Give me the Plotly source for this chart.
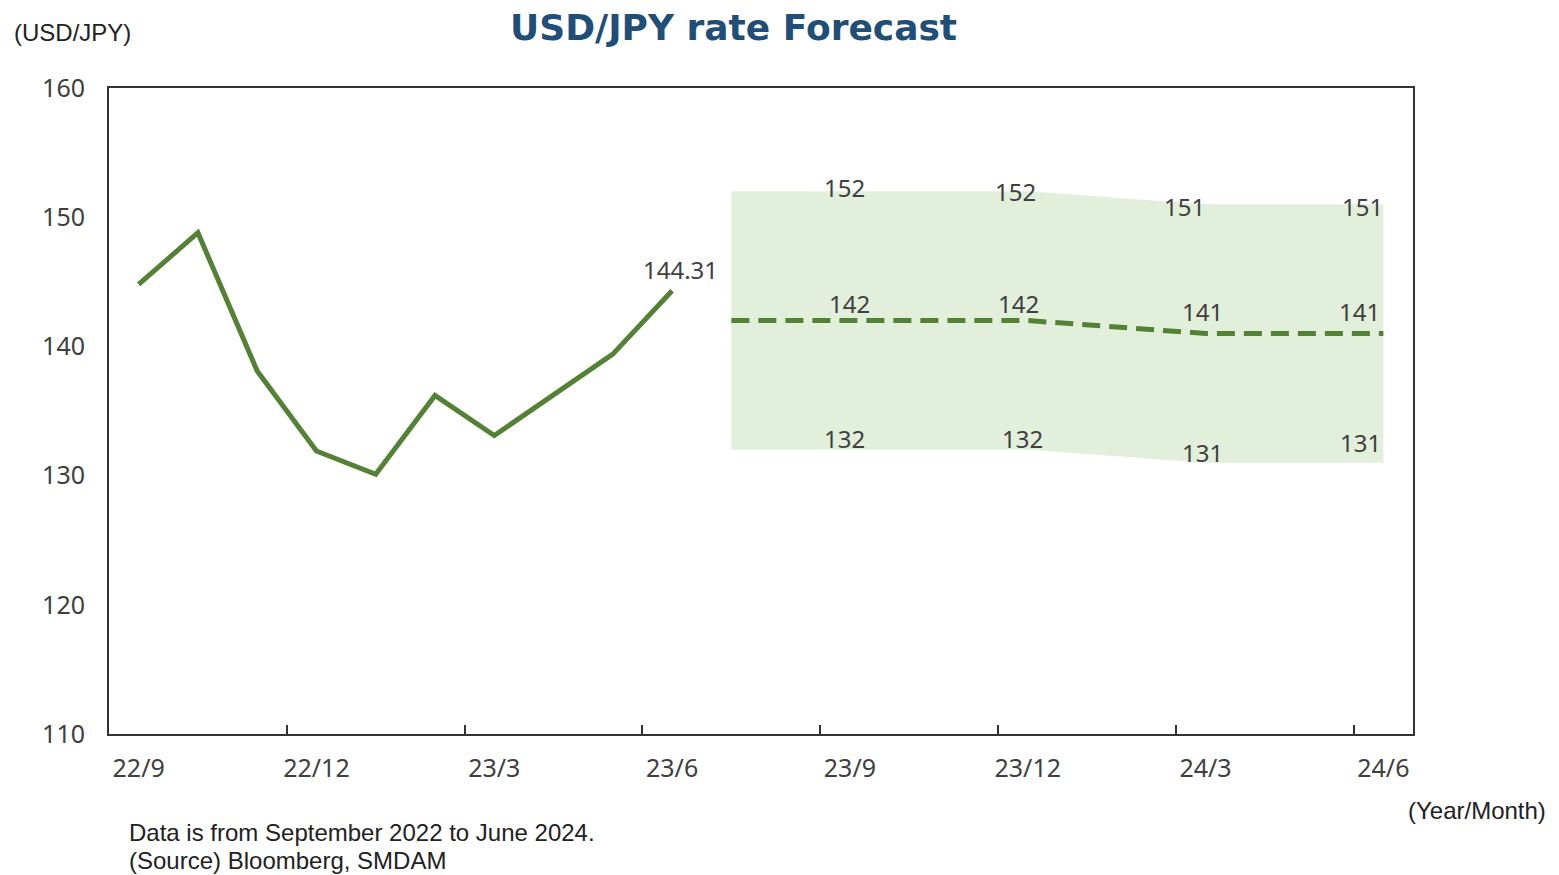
import plotly.graph_objects as go

# monthly categories 22/9 .. 24/6
months = ["22/9", "22/10", "22/11", "22/12", "23/1", "23/2", "23/3", "23/4", "23/5",
          "23/6", "23/7", "23/8", "23/9", "23/10", "23/11", "23/12", "24/1", "24/2",
          "24/3", "24/4", "24/5", "24/6"]
actual_months = months[:10]
actual_rate = [144.8, 148.8, 138.1, 131.9, 130.1, 136.2, 133.1, 136.3, 139.4, 144.31]

forecast_months = ["23/7", "23/9", "23/12", "24/3", "24/6"]
forecast_mid = [142, 142, 142, 141, 141]
forecast_high = [152, 152, 152, 151, 151]
forecast_low = [132, 132, 132, 131, 131]
label_months = ["23/9", "23/12", "24/3", "24/6"]

tick_labels = ["22/9", "22/12", "23/3", "23/6", "23/9", "23/12", "24/3", "24/6"]

GREEN = "#548235"
BAND = "#E2EFDA"
TEXT = "#404040"
FONT = "Noto Sans"
NOTE_FONT = "Liberation Sans"

# the page body has an 8px margin, so the figure is drawn 8px in from the corner
OFF = 8
PX_L, PX_R, PX_T, PX_B = 109, 1413, 88, 734  # plot area in page pixels

# label nudges (xshift, yshift) per forecast label, as placed in the original
NUDGE_HI = [(-5, 4), (-12, 0), (-21, -2), (-21, -2)]
NUDGE_MID = [(0, 17), (-9, 17), (-3, 22), (-24, 22)]
NUDGE_LO = [(-5, 11), (-5, 11), (-3, 10), (-23, 20)]


def idx(labels):
    return [months.index(m) for m in labels]


fig = go.Figure()

fig.add_trace(go.Scatter(x=idx(forecast_months), y=forecast_high, mode="lines",
                         line=dict(width=0), hoverinfo="skip", showlegend=False))
fig.add_trace(go.Scatter(x=idx(forecast_months), y=forecast_low, mode="lines",
                         line=dict(width=0), fill="tonexty", fillcolor=BAND,
                         hoverinfo="skip", showlegend=False))
fig.add_trace(go.Scatter(x=idx(actual_months), y=actual_rate, mode="lines",
                         line=dict(color=GREEN, width=5), showlegend=False))
fig.add_trace(go.Scatter(x=idx(forecast_months), y=forecast_mid, mode="lines",
                         line=dict(color=GREEN, width=5, dash="18px,9px"),
                         showlegend=False))
# invisible trace just to activate the boundary tick axis
fig.add_trace(go.Scatter(x=[0], y=[110], xaxis="x2", mode="markers",
                         marker=dict(opacity=0), hoverinfo="skip", showlegend=False))

ann = []
ann.append(dict(x=months.index(actual_months[-1]), y=actual_rate[-1],
                text=f"{actual_rate[-1]:.2f}", xshift=8, yshift=21))
lookup_hi = dict(zip(forecast_months, forecast_high))
lookup_mid = dict(zip(forecast_months, forecast_mid))
lookup_lo = dict(zip(forecast_months, forecast_low))
for k, m in enumerate(label_months):
    x = months.index(m)
    for lookup, nudge in ((lookup_hi, NUDGE_HI), (lookup_mid, NUDGE_MID), (lookup_lo, NUDGE_LO)):
        dx, dy = nudge[k]
        ann.append(dict(x=x, y=lookup[m], text=str(lookup[m]), xshift=dx, yshift=dy))
for a in ann:
    a.update(xref="x", yref="y", showarrow=False, xanchor="center", yanchor="middle",
             font=dict(family=FONT, size=24, color=TEXT))

notes = [
    dict(text="<b>USD/JPY rate Forecast</b>", x=733, y=27, xanchor="center",
         font=dict(size=36, color="#1F4E79", family="DejaVu Sans")),
    dict(text="(USD/JPY)", x=12, y=33, xanchor="left", font=dict(size=24, color="#222", family=NOTE_FONT)),
    dict(text="(Year/Month)", x=1548, y=810, xanchor="right", font=dict(size=24, color="#222", family=NOTE_FONT)),
    dict(text="Data is from September 2022 to June 2024.", x=127, y=832, xanchor="left",
         font=dict(size=24, color="#222", family=NOTE_FONT)),
    dict(text="(Source) Bloomberg, SMDAM", x=127, y=860, xanchor="left",
         font=dict(size=24, color="#222", family=NOTE_FONT)),
]
for a in notes:
    a.update(xref="paper", yref="paper", showarrow=False, yanchor="middle")
    a["x"] = (a["x"] - PX_L) / (PX_R - PX_L)
    a["y"] = (PX_B - a["y"]) / (PX_B - PX_T)
ann += notes

W, H = 1559 - OFF, 875 - OFF
fig.update_layout(
    width=W, height=H,
    margin=dict(l=PX_L - OFF, r=W - (PX_R - OFF), t=PX_T - OFF, b=H - (PX_B - OFF)),
    paper_bgcolor="white", plot_bgcolor="white",
    annotations=ann,
    xaxis=dict(range=[-0.5, len(months) - 0.5], tickvals=idx(tick_labels), ticktext=tick_labels,
               ticks="", showgrid=False, zeroline=False, showline=True, mirror=True,
               linecolor="#333", linewidth=2, tickfont=dict(family=FONT, size=25, color=TEXT),
               ticklabelstandoff=11),
    xaxis2=dict(range=[-0.5, len(months) - 0.5], overlaying="x", side="bottom",
                tickvals=[i - 0.5 for i in idx(tick_labels)[1:]], ticks="inside", ticklen=9,
                tickwidth=2, tickcolor="#333", showticklabels=False, showgrid=False,
                zeroline=False, showline=False),
    yaxis=dict(range=[110, 160], dtick=10, ticks="", showgrid=False, zeroline=False,
               showline=True, mirror=True, linecolor="#333", linewidth=2,
               tickfont=dict(family=FONT, size=25, color=TEXT), ticklabelstandoff=17),
)

fig.write_html("out.html")
